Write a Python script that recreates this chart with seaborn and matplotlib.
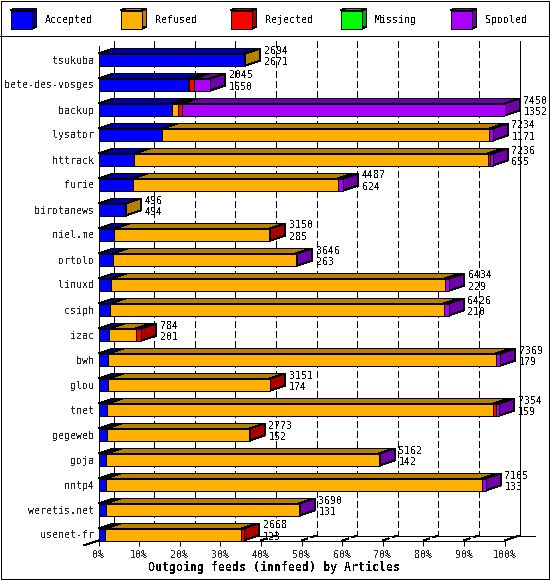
#!/usr/bin/env python3
# -*- coding: utf-8 -*-
import numpy as np
import pandas as pd
import seaborn as sns
import matplotlib
matplotlib.use("Agg")
import matplotlib.pyplot as plt
from matplotlib.patches import Polygon, Rectangle

feeds = ["tsukuba", "bete-des-vosges", "backup", "lysator", "httrack", "furie",
         "birotanews", "niel.me", "ortolo", "linuxd", "csiph", "izac", "bwh",
         "glou", "tnet", "gegeweb", "goja", "nntp4", "weretis.net", "usenet-fr"]
totals = [2694, 2045, 7450, 7234, 7236, 4487, 496, 3150, 3646, 6434, 6426, 784,
          7369, 3151, 7354, 2773, 5162, 7105, 3690, 2668]
accepted = [2671, 1650, 1352, 1171, 655, 624, 494, 285, 263, 229, 210, 201,
            179, 174, 159, 152, 142, 133, 131, 123]
refused = [23, 8, 100, 6003, 6490, 3770, 2, 2850, 3360, 6124, 6130, 481,
           7115, 2965, 7086, 2613, 5000, 6900, 3549, 2498]
rejected = [0, 100, 80, 0, 30, 0, 0, 15, 0, 0, 0, 102,
            0, 12, 40, 8, 0, 0, 0, 47]
missing = [0] * 20
spooled = [0, 287, 5918, 60, 61, 93, 0, 0, 23, 81, 86, 0,
           75, 0, 69, 0, 20, 72, 10, 0]

names = ["Accepted", "Refused", "Rejected", "Missing", "Spooled"]
front_colors = ["#0000ff", "#ffb000", "#ff0000", "#00ff00", "#aa00ff"]
dark_colors = ["#0000aa", "#b88000", "#aa0000", "#00aa00", "#7000aa"]
pct_ticks = list(range(0, 101, 10))

sns.set_style("white")
plt.rcParams["font.family"] = ["DejaVu Sans Mono"]
plt.rcParams["text.antialiased"] = False
plt.rcParams["lines.antialiased"] = False
plt.rcParams["patch.antialiased"] = False

W, H = 550, 580
LW = 0.72
fig = plt.figure(figsize=(W / 100, H / 100), dpi=100, facecolor="white")
ax = fig.add_axes([98.5 / W, 1 - 540.5 / H, 406 / W, 495 / H])
ax.set_facecolor("none")

# fausse 3D : decalage 15px a droite, 5px vers le haut
DX = 100 * 15 / 406
DY = -0.2
YTOP, YBOT = -0.56, 19.24
BAR_H = 0.48

scale = 100 / max(totals)
series = [np.array(s) * scale for s in (accepted, refused, rejected, missing, spooled)]

# plan du fond
back_top, back_bot = YTOP + DY, YBOT + DY
for p in pct_ticks:
    style = "-" if p in (0, 100) else (0, (6, 4))
    ax.plot([p + DX, p + DX], [back_top, back_bot], color="black", lw=LW, ls=style,
            clip_on=False, zorder=1)
    ax.plot([p, p + DX], [YBOT, back_bot], color="black", lw=LW, ls=style,
            clip_on=False, zorder=1)
ax.plot([DX, 107.5], [back_bot, back_bot], color="black", lw=LW, clip_on=False, zorder=1)
ax.plot([-DX, 0], [YBOT - DY, YBOT], color="black", lw=LW, clip_on=False, zorder=1)

# segments empiles
left = np.zeros(len(feeds))
for seg, col, dark in zip(series, front_colors, dark_colors):
    keep = seg > 0
    if keep.any():
        df = pd.DataFrame({"feed": np.array(feeds)[keep], "pct": seg[keep]})
        sns.barplot(data=df, x="pct", y="feed", order=feeds, orient="h", color=col,
                    saturation=1, width=BAR_H, left=left[keep], edgecolor="black",
                    linewidth=LW, zorder=3, ax=ax)
    for i in np.where(keep)[0]:
        l, r = left[i], left[i] + seg[i]
        t = i - BAR_H / 2
        ax.add_patch(Polygon([(l, t), (r, t), (r + DX, t + DY), (l + DX, t + DY)],
                             facecolor=dark, edgecolor="black", lw=LW, clip_on=False, zorder=2))
    left = left + seg

# face laterale et valeurs
for i, end in enumerate(left):
    last = [k for k, seg in enumerate(series) if seg[i] > 0][-1]
    t, b = i - BAR_H / 2, i + BAR_H / 2
    ax.add_patch(Polygon([(end, t), (end + DX, t + DY), (end + DX, b + DY), (end, b)],
                         facecolor=dark_colors[last], edgecolor="black", lw=LW,
                         clip_on=False, zorder=2.5))
    for val, dy in ((totals[i], 9), (accepted[i], -2.5)):
        ax.annotate(str(val), xy=(end + DX, i), xytext=(4, dy), textcoords="offset pixels",
                    ha="left", va="center", fontsize=7.2, color="black", zorder=4,
                    annotation_clip=False)

ax.set_xlim(0, 100)
ax.set_ylim(YBOT, YTOP)
ax.set_xticks(pct_ticks, [f"{p}%" for p in pct_ticks])
ax.set_xlabel("")
ax.set_ylabel("")
ax.tick_params(axis="x", length=3.6, width=LW, color="black", labelsize=7.2, pad=3, bottom=True)
ax.tick_params(axis="y", length=0, labelsize=7.2, pad=3)
for name, spine in ax.spines.items():
    spine.set_visible(name in ("left", "bottom"))
    spine.set_color("black")
    spine.set_linewidth(LW)

# calque en pixels pour cadre, legende et titre
ov = fig.add_axes([0, 0, 1, 1], facecolor="none")
ov.set_xlim(0, W)
ov.set_ylim(H, 0)
ov.axis("off")
ov.add_patch(Rectangle((0.5, 0.5), W - 2, H - 2, fill=False, edgecolor="black", lw=LW))
ov.plot([0, W - 1], [35.5, 35.5], color="black", lw=LW)
for k, (name, col, dark) in enumerate(zip(names, front_colors, dark_colors)):
    x0 = 10.5 + 110 * k
    ov.add_patch(Polygon([(x0, 10.5), (x0 + 21, 10.5), (x0 + 26, 8.5), (x0 + 5, 8.5)],
                         facecolor=dark, edgecolor="black", lw=LW))
    ov.add_patch(Polygon([(x0 + 21, 10.5), (x0 + 26, 8.5), (x0 + 26, 26.5), (x0 + 21, 28.5)],
                         facecolor=dark, edgecolor="black", lw=LW))
    ov.add_patch(Rectangle((x0, 10.5), 21, 18, facecolor=col, edgecolor="black", lw=LW))
    ov.text(x0 + 34.5, 20, name, ha="left", va="center", fontsize=7.2, color="black")
ov.text(274, 567, "Outgoing feeds (innfeed) by Articles", ha="center", va="center",
        fontsize=8.4, fontweight="bold", color="black")

fig.savefig("out.png", dpi=100)
